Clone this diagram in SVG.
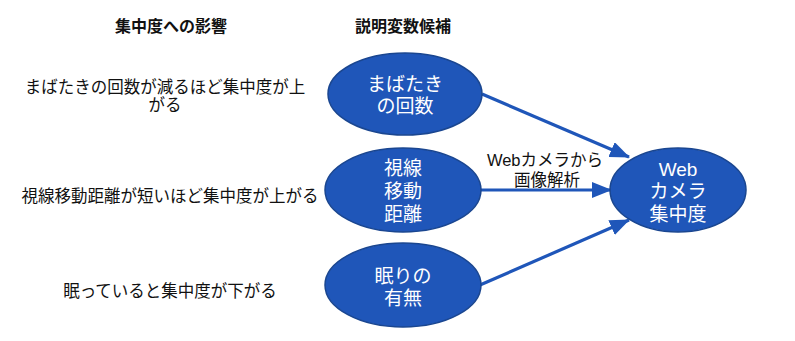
<svg xmlns="http://www.w3.org/2000/svg" width="795" height="341" viewBox="0 0 795 341">
<defs>
<style>
.t{font-family:"Liberation Sans","Noto Sans CJK JP",sans-serif;fill:#111;text-anchor:middle}
.h{font-size:16px;font-weight:bold}
.d{font-size:16.5px}
.n{fill:#1f56b9;stroke:#1a4690;stroke-width:1.5}
.w{font-family:"Liberation Sans","Noto Sans CJK JP",sans-serif;fill:#fff;font-size:19px;text-anchor:middle}
.c{stroke:#1f56b9;stroke-width:3.2;fill:none}
</style>
<marker id="ah" viewBox="0 0 10 8" refX="9.5" refY="4" markerWidth="6.25" markerHeight="5" markerUnits="strokeWidth" orient="auto">
<path d="M0,0 L10,4 L0,8 z" fill="#1f56b9"/>
</marker>
</defs>
<rect width="795" height="341" fill="#fff"/>
<g id="headers">
<text class="t h" x="171" y="32">集中度への影響</text>
<text class="t h" x="403" y="32">説明変数候補</text>
</g>
<g id="effects">
<text class="t d" x="165" y="93">まばたきの回数が減るほど集中度が上</text>
<text class="t d" x="165" y="111">がる</text>
<text class="t d" x="170" y="202">視線移動距離が短いほど集中度が上がる</text>
<text class="t d" x="170" y="297">眠っていると集中度が下がる</text>
</g>
<g id="connectors">
<line class="c" x1="482" y1="94" x2="629" y2="157" marker-end="url(#ah)"/>
<line class="c" x1="481" y1="190" x2="611" y2="190" marker-end="url(#ah)"/>
<line class="c" x1="480" y1="285" x2="629" y2="220" marker-end="url(#ah)"/>
<text class="t d" x="545" y="166">Webカメラから</text>
<text class="t d" x="547" y="186">画像解析</text>
</g>
<g id="node-blink">
<ellipse class="n" cx="405" cy="94" rx="77" ry="41"/>
<text class="w" x="405" y="91">まばたき</text>
<text class="w" x="405" y="113">の回数</text>
</g>
<g id="node-gaze">
<ellipse class="n" cx="403" cy="190" rx="78" ry="42"/>
<text class="w" x="403" y="175">視線</text>
<text class="w" x="403" y="198">移動</text>
<text class="w" x="403" y="221">距離</text>
</g>
<g id="node-sleep">
<ellipse class="n" cx="403" cy="285" rx="78" ry="42"/>
<text class="w" x="403" y="283">眠りの</text>
<text class="w" x="403" y="305">有無</text>
</g>
<g id="node-target">
<ellipse class="n" cx="678" cy="190" rx="68" ry="42"/>
<text class="w" x="678" y="176">Web</text>
<text class="w" x="678" y="198">カメラ</text>
<text class="w" x="678" y="221">集中度</text>
</g>
</svg>
